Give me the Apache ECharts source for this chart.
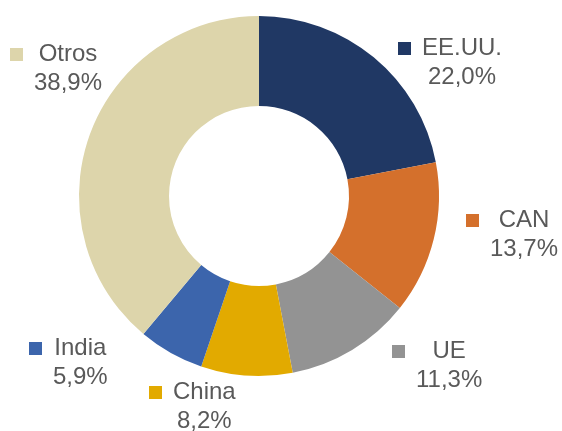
<!DOCTYPE html>
<html>
<head>
<meta charset="utf-8">
<script src="https://cdn.jsdelivr.net/npm/echarts@6/dist/echarts.min.js"></script>
<style>
  html, body { margin: 0; padding: 0; background: #fff; }
  #main { width: 562px; height: 431px; }
</style>
</head>
<body>
<div id="main"></div>
<script>
var categories = ['EE.UU.', 'CAN', 'UE', 'China', 'India', 'Otros'];
var values = [22.0, 13.7, 11.3, 8.2, 5.9, 38.9];
var colors = ['#203864', '#D4702C', '#939393', '#E2AA00', '#3C65AC', '#DDD5AB'];

// top-left corner of each label block (legend key + two text lines)
var labelPos = [[398, 34], [466, 206], [392, 337], [149, 378], [29, 334], [10, 40]];

var myChart = echarts.init(document.getElementById('main'));

var rich = {
    gap: { width: 11 },
    sp: { width: 24 },
    name: { align: 'center', fontSize: 24, color: '#595959', lineHeight: 29 },
    val: { align: 'center', fontSize: 24, color: '#595959', lineHeight: 29 }
};
colors.forEach(function (c, i) {
    rich['sq' + i] = { width: 13, height: 13, backgroundColor: c };
});

option = {
    animation: false,
    color: colors,
    series: [{
        type: 'pie',
        silent: true,
        center: [259, 196],
        radius: [90, 180],
        startAngle: 90,
        clockwise: true,
        avoidLabelOverlap: false,
        data: categories.map(function (n, i) {
            return { name: n, value: values[i] };
        }),
        labelLine: { show: false },
        label: {
            show: true,
            overflow: 'none',
            fontFamily: 'Arial, "Liberation Sans", sans-serif',
            fontSize: 24,
            color: '#595959',
            lineHeight: 29,
            formatter: function (p) {
                var v = p.value.toFixed(1).replace('.', ',') + '%';
                return '{sq' + p.dataIndex + '|}{gap|}{name|' + p.name + '}\n{sp|}{val|' + v + '}';
            },
            rich: rich
        },
        labelLayout: function (p) {
            var pos = labelPos[p.dataIndex];
            return { x: pos[0], y: pos[1], align: 'left', verticalAlign: 'top' };
        }
    }]
};

myChart.setOption(option);
</script>
</body>
</html>
